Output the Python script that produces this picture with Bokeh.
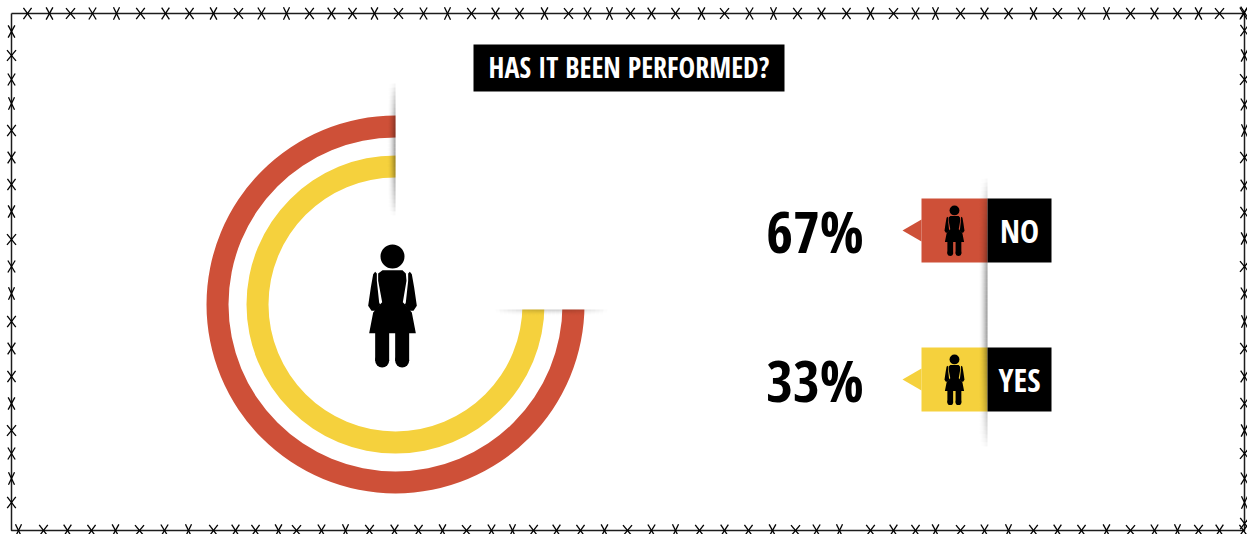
import math
from bokeh.plotting import figure
from bokeh.embed import file_html
from bokeh.resources import INLINE
from bokeh.models import Range1d
from bokeh.core.properties import value

TITLE = "HAS IT BEEN PERFORMED?"
answers = ["NO", "YES"]
shares = ["67%", "33%"]
colors = ["#CE5038", "#F5D13D"]
ring_outer = [189, 149]
ring_inner = [167, 127]
row_y = [198, 347]

barbs_top = [27,49,70,92,116,140,165,189,213,238,261,286,309,331,352,374,398,423,447,471,495,519,544,568,587,609,
             630,651,675,701,724,749,773,797,821,846,870,893,915,935,960,984,1008,1033,1057,1081,1106,1130,1154,1177,1198,1219,1243]
barbs_bottom = [18,43,67,91,115,139,164,188,213,235,255,278,296,321,345,369,394,418,442,466,491,512,533,556,580,604,
                627,651,675,699,724,748,772,795,816,839,870,893,915,935,960,984,1008,1033,1057,1081,1106,1130,1154,1177,1198,1219,1243]
barbs_left = [31,55,79,103,130,157,184,211,239,266,293,321,348,376,403,430,453,478,502]
barbs_right = [12,30,55,79,104,130,157,185,212,238,266,293,321,348,376,403,430,453,478,502,523]
tilts = [0.62, 0.5, 0.7, 0.55, 0.45, 0.66, 0.58]

p = figure(width=1247, height=534, x_range=Range1d(0, 1247), y_range=Range1d(534, 0),
           output_backend="svg", toolbar_location=None, min_border=0)
p.axis.visible = False
p.grid.visible = False
p.outline_line_color = None
p.background_fill_color = "white"

# rings
for i in range(2):
    p.annulus(x=[395], y=[304], inner_radius=ring_inner[i], outer_radius=ring_outer[i],
              fill_color=colors[i], line_color=None)
# panel hiding the open quarter
p.quad(left=[395], right=[615], top=[80], bottom=[309], fill_color="white", line_color=None)

def bump(u):
    return max(math.sin(math.pi * min(max(u, 0.0), 1.0)), 0.0)

def shadow_v(x0, x1, y0, y1, peak):
    """gradient darkening towards x1, fading at both vertical ends"""
    l, r, t, b, a = [], [], [], [], []
    n = int(x1 - x0)
    for j in range(n):
        y = y0
        while y < y1:
            u = (y + 2 - y0) / (y1 - y0)
            l.append(x0 + j); r.append(x0 + j + 1); t.append(y); b.append(y + 4)
            a.append(peak * ((j + 1) / n) ** 2 * bump(u) ** 0.7)
            y += 4
    p.quad(left=l, right=r, top=t, bottom=b, fill_color="black", fill_alpha=a, line_color=None)

def shadow_h(x0, x1, y0, y1, peak):
    l, r, t, b, a = [], [], [], [], []
    n = int(y1 - y0)
    for j in range(n):
        x = x0
        while x < x1:
            u = (x + 2 - x0) / (x1 - x0)
            l.append(x); r.append(x + 4); t.append(y0 + j); b.append(y0 + j + 1)
            a.append(peak * (1 - (j + 0.5) / n) ** 2 * bump(u) ** 0.8)
            x += 4
    p.quad(left=l, right=r, top=t, bottom=b, fill_color="black", fill_alpha=a, line_color=None)

# title
p.quad(left=[473], right=[784], top=[44], bottom=[91], fill_color="black", line_color=None)
p.text([628.5], [78 - 12], text=[TITLE], text_font=value("Open Sans Condensed"), text_font_style="bold",
       text_font_size="28px", text_color="white", text_align="center", text_baseline="alphabetic")

# person icon, outline in its own units
BODY = [(125,118),(185,118),(195,128),(197,150),(186,214),(192,220),(213,245),(225,307),
        (85,307),(97,245),(118,220),(124,214),(112,150),(112,128)]
ARM = [(103,123),(108,128),(108,150),(115,215),(118,222),(105,240),(92,240),(82,225),(90,170),(97,130)]

def person(cx, top, s):
    fx = lambda v: cx + (v - 155) * s
    fy = lambda v: top + (v - 41) * s
    polys = [BODY, ARM, [(310 - a, b) for a, b in ARM],
             [(103,300),(145,300),(145,390),(103,390)], [(163,300),(205,300),(205,390),(163,390)]]
    p.patches([[fx(a) for a, b in q] for q in polys], [[fy(b) for a, b in q] for q in polys],
              fill_color="black", line_color=None)
    p.circle(x=[fx(155), fx(124), fx(184)], y=[fy(77), fy(389), fy(389)],
             radius=[36 * s, 21 * s, 21 * s], fill_color="black", line_color=None)

person(392, 244, 1 / 3)

# legend rows
for i in range(2):
    y = row_y[i]
    p.quad(left=[921], right=[987], top=[y], bottom=[y + 64], fill_color=colors[i], line_color=None)
    p.patch([902, 921, 921], [y + 32, y + 21, y + 43], fill_color=colors[i], line_color=None)
    p.quad(left=[987], right=[1051], top=[y], bottom=[y + 64], fill_color="black", line_color=None)
    person(954, y + 7, 0.137)
    p.text([1019], [y + 46 - 14.5], text=[answers[i]], text_font=value("Open Sans Condensed"), text_font_style="bold",
           text_font_size="32px", text_color="white", text_align="center", text_baseline="alphabetic")
    p.text([814.5], [y + 59 - 27], text=[shares[i]], text_font=value("Open Sans Condensed"), text_font_style="bold",
           text_font_size="58px", text_color="black", text_align="center", text_baseline="alphabetic")

# soft shadows
shadow_v(387, 395, 83, 214, 0.4)
shadow_h(495, 607, 309, 316, 0.22)
shadow_v(978, 987, 178, 447, 0.42)

# barbed-wire frame
L, R, T, B = 11, 1244, 13, 530
p.line([L, R, R, L, L], [T, T, B, B, T], line_color="#1c1c1c", line_width=1.5)
x0, y0, x1, y1 = [], [], [], []
pts = [(x, T) for x in barbs_top] + [(x, B) for x in barbs_bottom] + \
      [(L, y) for y in barbs_left] + [(R, y) for y in barbs_right]
for k, (x, y) in enumerate(pts):
    t = tilts[k % len(tilts)]
    dx, dy = 7 * math.sin(t), 7 * math.cos(t)
    x0 += [x - dx, x - dx]; x1 += [x + dx, x + dx]
    y0 += [y - dy, y + dy]; y1 += [y + dy, y - dy]
p.segment(x0, y0, x1, y1, line_color="#000000", line_width=1.3)

open("out.html", "w").write(file_html(p, INLINE))
